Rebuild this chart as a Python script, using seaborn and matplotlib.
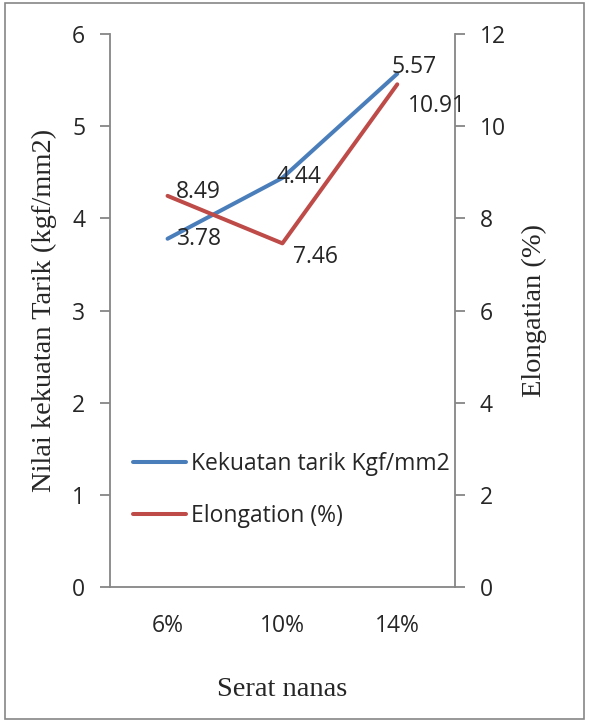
import seaborn as sns
import pandas as pd
import matplotlib.pyplot as plt
from matplotlib.patches import Rectangle

# data
serat = ['6%', '10%', '14%']
kekuatan = [3.78, 4.44, 5.57]
elongation = [8.49, 7.46, 10.91]

df = pd.DataFrame({'Serat': serat, 'Kekuatan': kekuatan, 'Elongation': elongation})
df['pos'] = range(len(serat))

sns.set_style('white')
plt.rcParams['font.family'] = ['Open Sans', 'DejaVu Sans']

blue = '#4A7EBB'
red = '#BE4B48'
grey = '#868686'
fs = 16.5

fig = plt.figure(figsize=(5.89, 7.25), dpi=100)
ax = fig.add_axes([0.187, 0.19, 0.585, 0.763])
ax2 = ax.twinx()

sns.lineplot(x='pos', y='Kekuatan', data=df, ax=ax, color=blue, linewidth=2.9,
             label='Kekuatan tarik Kgf/mm2', legend=False, solid_capstyle='round')
sns.lineplot(x='pos', y='Elongation', data=df, ax=ax2, color=red, linewidth=2.9,
             label='Elongation (%)', legend=False, solid_capstyle='round')

ax.set_xlim(-0.5, 2.5)
ax.set_ylim(0, 6)
ax2.set_ylim(0, 12)
ax.set_xticks(df['pos'])
ax.set_xticklabels(serat)
ax.set_yticks(range(0, 7))
ax2.set_yticks(range(0, 13, 2))

for a in (ax, ax2):
    for s in a.spines.values():
        s.set_color(grey)
        s.set_linewidth(1.3)
    a.spines['top'].set_visible(False)
    a.tick_params(axis='y', length=7, width=1.3, color=grey, labelsize=fs, pad=11)
ax.tick_params(axis='x', length=0, labelsize=fs, pad=19)
ax.spines['right'].set_visible(False)
ax2.spines['left'].set_visible(False)
ax2.spines['bottom'].set_visible(False)

ax.set_xlabel('Serat nanas', family='Liberation Serif', fontsize=20.5)
ax.set_ylabel('Nilai kekuatan Tarik (kgf/mm2)', family='Liberation Serif', fontsize=20.5)
ax2.set_ylabel('Elongatian (%)', family='Liberation Serif', fontsize=20.5)
ax.xaxis.set_label_coords(0.5, -0.163)
ax.yaxis.set_label_coords(-0.154, 0.5)
ax2.yaxis.set_label_coords(1.194, 0.5)

# data labels
offs_k = [(6.5, -0.5), (-4, 0.5), (-4, 4.5)]
offs_e = [(6, 2.5), (7.5, -10), (7.5, -15.5)]
for i in range(len(serat)):
    ax.annotate(f'{kekuatan[i]:.2f}', (df['pos'][i], kekuatan[i]), xytext=offs_k[i],
                textcoords='offset points', va='center', ha='left', fontsize=fs)
    ax2.annotate(f'{elongation[i]:.2f}', (df['pos'][i], elongation[i]), xytext=offs_e[i],
                 textcoords='offset points', va='center', ha='left', fontsize=fs)

h1, l1 = ax.get_legend_handles_labels()
h2, l2 = ax2.get_legend_handles_labels()
leg = ax2.legend(h1 + h2, l1 + l2, loc='center left', bbox_to_anchor=(0.067, 0.176),
                 frameon=False, fontsize=fs, handlelength=2.3, handletextpad=0.2,
                 labelspacing=1.2, borderaxespad=0, borderpad=0)

# outer border around the chart area
fig.patches.append(Rectangle((0.009, 0.008), 0.982, 0.988, transform=fig.transFigure,
                             fill=False, edgecolor=grey, linewidth=1.2))

fig.savefig('out.png', dpi=100)
